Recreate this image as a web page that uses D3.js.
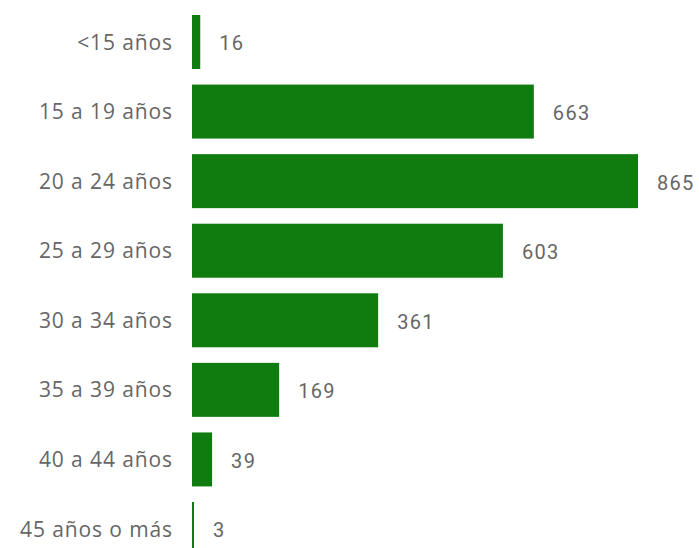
<!DOCTYPE html>
<html>
<head>
<meta charset="utf-8">
<script src="https://cdn.jsdelivr.net/npm/d3@7"></script>
<style>
  html, body { margin: 0; padding: 0; background: #fff; overflow: hidden; }
</style>
</head>
<body>
<script>
const categories = ['<15 años', '15 a 19 años', '20 a 24 años', '25 a 29 años',
                    '30 a 34 años', '35 a 39 años', '40 a 44 años', '45 años o más'];
const values = [16, 663, 865, 603, 361, 169, 39, 3];

const width = 699, height = 548;
const left = 192;

const svg = d3.select('body').append('svg')
    .attr('width', width)
    .attr('height', height);

const x = d3.scaleLinear()
    .domain([0, 865])
    .range([left, 638]);

const y = d3.scaleBand()
    .domain(categories)
    .range([15, 556])
    .paddingInner(0.224)
    .paddingOuter(0);

const rows = svg.selectAll('g.row')
    .data(categories)
    .enter()
    .append('g')
    .attr('class', 'row');

rows.append('rect')
    .attr('x', x(0))
    .attr('y', d => y(d))
    .attr('width', (d, i) => Math.max(2, x(values[i]) - x(0)))
    .attr('height', y.bandwidth())
    .attr('fill', '#107C10');

// category labels, right aligned next to the bars
rows.append('text')
    .attr('x', 173)
    .attr('y', d => y(d) + y.bandwidth() / 2)
    .attr('dy', '0.36em')
    .attr('text-anchor', 'end')
    .attr('font-family', '"Open Sans", sans-serif')
    .attr('font-size', 21)
    .attr('letter-spacing', 0.9)
    .attr('fill', '#666666')
    .text(d => d);

// value labels
rows.append('text')
    .attr('x', (d, i) => Math.max(x(values[i]), x(0) + 2) + 19)
    .attr('y', d => y(d) + y.bandwidth() / 2)
    .attr('dy', '0.42em')
    .attr('font-family', 'Roboto, sans-serif')
    .attr('font-size', 20)
    .attr('letter-spacing', 1.3)
    .attr('fill', '#666666')
    .text((d, i) => values[i]);
</script>
</body>
</html>
